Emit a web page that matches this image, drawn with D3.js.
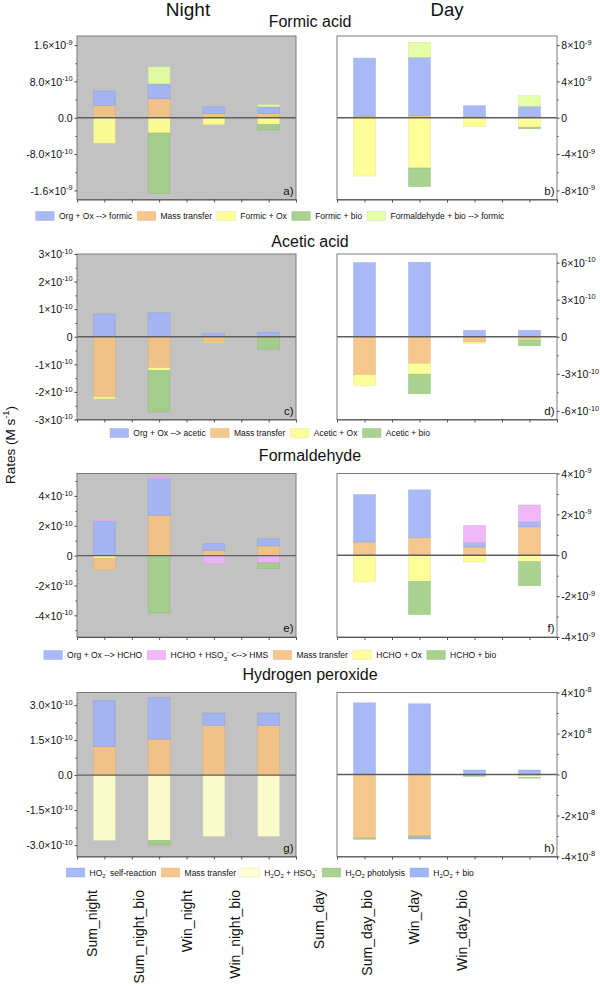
<!DOCTYPE html>
<html><head><meta charset="utf-8">
<script src="https://cdn.jsdelivr.net/npm/d3@7"></script>
<style>
body{margin:0;background:#fff}
text{font-family:"Liberation Sans",Arial,Helvetica,sans-serif;fill:#111}
</style>
</head><body>
<svg id="c" width="600" height="987"></svg>
<script>
// ---------------- DATA ----------------
const nightCats = ["Sum_night","Sum_night_bio","Win_night","Win_night_bio"];
const dayCats = ["Sum_day","Sum_day_bio","Win_day","Win_day_bio"];
// each series: 4 night values (Sum_night..Win_night_bio) then 4 day values (Sum_day..Win_day_bio), M s-1

// Formic acid
const formicOrgOx   = [3.2e-10, 3.25e-10, 1.46e-10, 1.46e-10, 6.38e-9, 6.39e-9, 1.19e-9, 1.13e-9];
const formicMass    = [2.7e-10, 4.2e-10, 9.4e-11, 9.4e-11, 1.8e-10, 2.5e-10, 1.4e-10, 1.2e-10];
const formicOx      = [-5.6e-10, -3.35e-10, -1.53e-10, -1.5e-10, -6.42e-9, -5.53e-9, -9.6e-10, -1.04e-9];
const formicBio     = [0, -1.33e-9, 0, -1.2e-10, 0, -2.04e-9, 0, -1.8e-10];
const formicHchoBio = [0, 3.75e-10, 0, 5e-11, 0, 1.66e-9, 0, 1.18e-9];

// Acetic acid
const aceticOrgOx = [8.3e-11, 8.7e-11, 1.2e-11, 1.6e-11, 6.0e-10, 6.03e-10, 5.2e-11, 5.2e-11];
const aceticMass  = [-2.18e-10, -1.12e-10, -2.0e-11, -3e-12, -3.08e-10, -2.16e-10, -4.3e-11, -2.2e-11];
const aceticOx    = [-7e-12, -1.0e-11, -2e-12, 0, -8.6e-11, -8.7e-11, -1.0e-11, -5e-12];
const aceticBio   = [0, -1.51e-10, 0, -4.3e-11, 0, -1.59e-10, 0, -4.6e-11];

// Formaldehyde
const hchoOrgOx = [2.3e-10, 2.46e-10, 4.4e-11, 4.7e-11, 2.32e-9, 2.34e-9, 2.2e-10, 2.5e-10];
const hchoHms   = [8e-12, 1.1e-11, -5.6e-11, -4.9e-11, 0, 0, 8.4e-10, 8.2e-10];
const hchoMass  = [-7.8e-11, 2.7e-10, 3.6e-11, 6.5e-11, 6.5e-10, 8.6e-10, 4.0e-10, 1.39e-9];
const hchoOx    = [-1.8e-11, -4e-12, 0, 0, -1.28e-9, -1.28e-9, -3.3e-10, -3.1e-10];
const hchoBio   = [0, -3.8e-10, 0, -3.8e-11, 0, -1.62e-9, 0, -1.18e-9];

// Hydrogen peroxide
const h2o2Ho2  = [1.97e-10, 1.79e-10, 5.3e-11, 5.3e-11, 3.5e-8, 3.45e-8, 2.2e-9, 2.2e-9];
const h2o2Mass = [1.23e-10, 1.54e-10, 2.13e-10, 2.13e-10, -3.1e-8, -3.0e-8, -4e-10, -4e-10];
const h2o2Hso3 = [-2.8e-10, -2.8e-10, -2.63e-10, -2.63e-10, 0, 0, 0, -1.0e-9];
const h2o2Phot = [0, -2.0e-11, 0, 0, -6e-10, -7e-10, -5e-10, -4e-10];
const h2o2Bio  = [0, 0, 0, 0, 0, -8e-10, 0, 0];

// tick labels: [value, mantissa, exponent]
const formicNightTicks = [[1.6e-9,"1.6","-9"],[8e-10,"8.0","-10"],[0,"0.0",""],[-8e-10,"-8.0","-10"],[-1.6e-9,"-1.6","-9"]];
const formicDayTicks   = [[8e-9,"8","-9"],[4e-9,"4","-9"],[0,"0",""],[-4e-9,"-4","-9"],[-8e-9,"-8","-9"]];
const aceticNightTicks = [[3e-10,"3","-10"],[2e-10,"2","-10"],[1e-10,"1","-10"],[0,"0",""],[-1e-10,"-1","-10"],[-2e-10,"-2","-10"],[-3e-10,"-3","-10"]];
const aceticDayTicks   = [[6e-10,"6","-10"],[3e-10,"3","-10"],[0,"0",""],[-3e-10,"-3","-10"],[-6e-10,"-6","-10"]];
const hchoNightTicks   = [[4e-10,"4","-10"],[2e-10,"2","-10"],[0,"0",""],[-2e-10,"-2","-10"],[-4e-10,"-4","-10"]];
const hchoDayTicks     = [[4e-9,"4","-9"],[2e-9,"2","-9"],[0,"0",""],[-2e-9,"-2","-9"],[-4e-9,"-4","-9"]];
const h2o2NightTicks   = [[3e-10,"3.0","-10"],[1.5e-10,"1.5","-10"],[0,"0.0",""],[-1.5e-10,"-1.5","-10"],[-3e-10,"-3.0","-10"]];
const h2o2DayTicks     = [[4e-8,"4","-8"],[2e-8,"2","-8"],[0,"0",""],[-2e-8,"-2","-8"],[-4e-8,"-4","-8"]];

// ---------------- STYLE ----------------
const C = {
  blue:"#a0b3f5", orange:"#f5c283", yellow:"#ffff90", green:"#a2cd85",
  lgreen:"#e3ffa0", pink:"#efb2f8", pale:"#ffffcc", blue2:"#97b0f7"
};
const chems = [
  {title:"Formic acid", letters:["a)","b)"],
   series:[
    {key:"org", parts:[["Org + Ox --> formic",""]], color:C.blue, vals:formicOrgOx},
    {key:"mass", parts:[["Mass transfer",""]], color:C.orange, vals:formicMass},
    {key:"ox", parts:[["Formic + Ox",""]], color:C.yellow, vals:formicOx},
    {key:"bio", parts:[["Formic + bio",""]], color:C.green, vals:formicBio},
    {key:"fbio", parts:[["Formaldehyde + bio --> formic",""]], color:C.lgreen, vals:formicHchoBio}],
   stack:["mass","org","ox","bio","fbio"],
   dom:[[-1.8e-9,1.8e-9],[-9e-9,9e-9]], ticks:[formicNightTicks, formicDayTicks]},
  {title:"Acetic acid", letters:["c)","d)"],
   series:[
    {key:"org", parts:[["Org + Ox --> acetic",""]], color:C.blue, vals:aceticOrgOx},
    {key:"mass", parts:[["Mass transfer",""]], color:C.orange, vals:aceticMass},
    {key:"ox", parts:[["Acetic + Ox",""]], color:C.yellow, vals:aceticOx},
    {key:"bio", parts:[["Acetic + bio",""]], color:C.green, vals:aceticBio}],
   stack:["org","mass","ox","bio"],
   dom:[[-3e-10,3e-10],[-6.7e-10,6.7e-10]], ticks:[aceticNightTicks, aceticDayTicks]},
  {title:"Formaldehyde", letters:["e)","f)"],
   series:[
    {key:"org", parts:[["Org + Ox --> HCHO",""]], color:C.blue, vals:hchoOrgOx},
    {key:"hms", parts:[["HCHO + HSO",""],["3","sub"],["-","sup"],[" <--> HMS",""]], color:C.pink, vals:hchoHms},
    {key:"mass", parts:[["Mass transfer",""]], color:C.orange, vals:hchoMass},
    {key:"ox", parts:[["HCHO + Ox",""]], color:C.yellow, vals:hchoOx},
    {key:"bio", parts:[["HCHO + bio",""]], color:C.green, vals:hchoBio}],
   stack:["ox","mass","org","hms","bio"],
   dom:[[-5.45e-10,5.5e-10],[-4e-9,4e-9]], ticks:[hchoNightTicks, hchoDayTicks]},
  {title:"Hydrogen peroxide", letters:["g)","h)"],
   series:[
    {key:"ho2", parts:[["HO",""],["2","sub"],["·","sup"],[" self-reaction",""]], color:C.blue, vals:h2o2Ho2},
    {key:"mass", parts:[["Mass transfer",""]], color:C.orange, vals:h2o2Mass},
    {key:"hso3", parts:[["H",""],["2","sub"],["O",""],["2","sub"],[" + HSO",""],["3","sub"],["-","sup"]], color:C.pale, vals:h2o2Hso3},
    {key:"phot", parts:[["H",""],["2","sub"],["O",""],["2","sub"],[" photolysis",""]], color:C.green, vals:h2o2Phot},
    {key:"bio", parts:[["H",""],["2","sub"],["O",""],["2","sub"],[" + bio",""]], color:C.blue2, vals:h2o2Bio}],
   stack:["mass","ho2","hso3","phot","bio"],
   dom:[[-3.49e-10,3.54e-10],[-4e-8,4e-8]], ticks:[h2o2NightTicks, h2o2DayTicks]}
];

// ---------------- LAYOUT ----------------
const cols = [{x0:77, x1:296, cats:nightCats, off:0, bg:"#c2c2c2"},
              {x0:337, x1:557, cats:dayCats, off:4, bg:"#ffffff"}];
const rowsY = [{top:36,bottom:199.5,title:26.5,legend:216},
               {top:254,bottom:419.5,title:246.5,legend:433},
               {top:473.5,bottom:637,title:460.5,legend:655},
               {top:692.5,bottom:856.5,title:679.5,legend:872.5}];
const svg = d3.select("#c");

function rich(sel, parts, size, base){
  let cur = -(base||0);
  parts.forEach(([s,t])=>{
    const target = t==="sup" ? -0.42*size : t==="sub" ? 0.3*size : 0;
    const ts = sel.append("tspan").text(s).attr("dy", target-cur);
    if (t) ts.attr("font-size", size*0.7);
    cur = target;
  });
}

function minorsOf(ticks, dom){
  const v = ticks.map(t=>t[0]).sort((a,b)=>a-b);
  const step = v[1]-v[0];
  const out = [];
  for (let k=-1;k<v.length;k++){
    const m = (k<0 ? v[0]-step/2 : v[k]+step/2);
    if (m>=dom[0]-1e-20 && m<=dom[1]+1e-20) out.push(m);
  }
  return out;
}

chems.forEach((chem, ri)=>{
  const R = rowsY[ri];
  cols.forEach((col, ci)=>{
    const dom = chem.dom[ci], ticks = chem.ticks[ci];
    const x = d3.scaleBand().domain(col.cats).range([col.x0, col.x1]);
    const y = d3.scaleLinear().domain(dom).range([R.bottom, R.top]);
    const g = svg.append("g");
    g.append("rect").attr("x",col.x0).attr("y",R.top).attr("width",col.x1-col.x0).attr("height",R.bottom-R.top).attr("fill",col.bg);

    const table = col.cats.map((c,i)=>{const o={cat:c}; chem.series.forEach(s=>o[s.key]=s.vals[col.off+i]); return o;});
    const stacked = d3.stack().keys(chem.stack).offset(d3.stackOffsetDiverging)(table);
    const colorOf = Object.fromEntries(chem.series.map(s=>[s.key,s.color]));
    const bw = x.bandwidth()*0.4;
    stacked.forEach(layer=>{
      g.selectAll(null).data(layer.filter(d=>Math.abs(d[1]-d[0])>0)).enter().append("rect")
        .attr("x", d=>x(d.data.cat)+(x.bandwidth()-bw)/2)
        .attr("width", bw)
        .attr("y", d=>y(Math.max(d[0],d[1])))
        .attr("height", d=>Math.abs(y(d[0])-y(d[1])))
        .attr("fill", colorOf[layer.key]).attr("fill-opacity",0.92)
        .attr("stroke", d3.color(colorOf[layer.key]).darker(0.5)).attr("stroke-opacity",0.45).attr("stroke-width",0.7);
    });
    // zero line
    g.append("line").attr("x1",col.x0).attr("x2",col.x1).attr("y1",y(0)).attr("y2",y(0))
      .attr("stroke","#5e5e5e").attr("stroke-width",1.3);
    // box
    g.append("rect").attr("x",col.x0).attr("y",R.top).attr("width",col.x1-col.x0).attr("height",R.bottom-R.top)
      .attr("fill","none").attr("stroke","#7a7a7a").attr("stroke-width",1);

    // y axis
    const ax = (ci===0 ? d3.axisLeft(y) : d3.axisRight(y)).tickValues(ticks.map(t=>t[0])).tickSize(2.5).tickPadding(1.8);
    const gA = svg.append("g").attr("transform",`translate(${ci===0?col.x0:col.x1},0)`).call(ax);
    gA.attr("font-family",null).attr("font-size",null);
    gA.select(".domain").remove();
    gA.selectAll(".tick line").attr("stroke","#444");
    gA.selectAll(".tick text").each(function(d){
      const t = ticks.find(k=>k[0]===d);
      const el = d3.select(this).text(null).attr("dy",null).attr("font-size",10.5).attr("fill","#1a1a1a");
      rich(el, t[2] ? [[t[1]+"×10",""],[t[2],"sup"]] : [[t[1],""]], 10.5, 3.7);
    });
    const axm = (ci===0 ? d3.axisLeft(y) : d3.axisRight(y)).tickValues(minorsOf(ticks, dom)).tickSize(1.5).tickFormat(()=>"");
    const gM = svg.append("g").attr("transform",`translate(${ci===0?col.x0:col.x1},0)`).call(axm);
    gM.select(".domain").remove();
    gM.selectAll(".tick line").attr("stroke","#444");

    // bottom axis
    const xl = d3.scaleLinear().domain([0,col.cats.length]).range([col.x0,col.x1]);
    const gB = svg.append("g").attr("transform",`translate(0,${R.bottom})`)
      .call(d3.axisBottom(xl).tickValues(d3.range(0,col.cats.length+0.01,0.5)).tickSize(3).tickSizeOuter(0).tickFormat(()=>""));
    gB.select(".domain").attr("stroke","#555");
    gB.selectAll(".tick line").attr("stroke","#555");

    // panel letter
    svg.append("text").attr("x",col.x1-2.5).attr("y",R.bottom-5).attr("text-anchor","end")
      .attr("font-size",11.5).text(chem.letters[ci]);
  });

  // title
  svg.append("text").attr("x",310).attr("y",R.title).attr("text-anchor","middle").attr("font-size",16).text(chem.title);

  // legend
  const lg = svg.append("g");
  const sw = 18.5, sh = 9, gap1 = 4.8, gap2 = 5;
  const items = chem.series.map(s=>{
    const it = lg.append("g");
    it.append("rect").attr("width",sw).attr("height",sh).attr("y",R.legend-sh/2)
      .attr("fill",s.color).attr("fill-opacity",0.92).attr("stroke",d3.color(s.color).darker(0.5)).attr("stroke-opacity",0.45).attr("stroke-width",0.7);
    const t = it.append("text").attr("x",sw+gap1).attr("y",R.legend+3).attr("font-size",8.5).attr("fill","#1a1a1a");
    rich(t, s.parts, 8.5);
    const w = sw+gap1+t.node().getComputedTextLength();
    return {it,w};
  });
  const total = d3.sum(items,d=>d.w)+gap2*(items.length-1);
  let cx = 270-total/2;
  items.forEach(d=>{d.it.attr("transform",`translate(${cx},0)`); cx += d.w+gap2;});
});

// column headers
svg.append("text").attr("x",188).attr("y",15.5).attr("text-anchor","middle").attr("font-size",19).text("Night");
svg.append("text").attr("x",447).attr("y",15.5).attr("text-anchor","middle").attr("font-size",18.5).text("Day");

// y title
const yt = svg.append("text").attr("transform","translate(15,445) rotate(-90)").attr("text-anchor","middle").attr("font-size",13.5);
rich(yt, [["Rates (M s",""],["-1","sup"],[")",""]], 13.5);

// x labels
const lblNight = d3.scalePoint().domain(nightCats).range([91.5,235]);
const lblDay = d3.scalePoint().domain(dayCats).range([319,462]);
[[nightCats,lblNight],[dayCats,lblDay]].forEach(([cats,sc])=>{
  svg.selectAll(null).data(cats).enter().append("text")
    .attr("transform",d=>`translate(${sc(d)},890) rotate(-90)`)
    .attr("dy","0.36em").attr("text-anchor","end").attr("font-size",14).text(d=>d);
});
</script>
</body></html>
